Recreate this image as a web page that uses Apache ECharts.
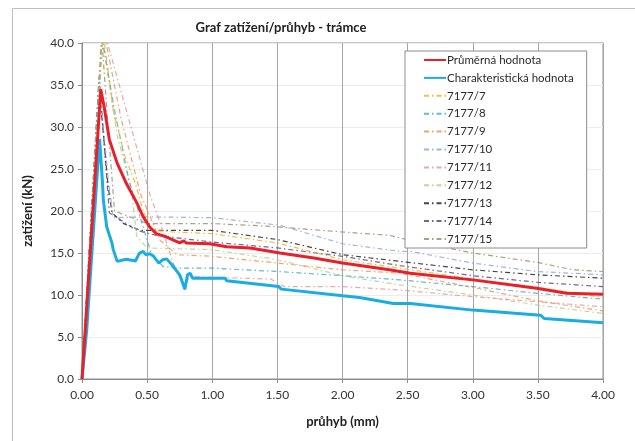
<!DOCTYPE html>
<html><head><meta charset="utf-8">
<script src="https://cdn.jsdelivr.net/npm/echarts@6/dist/echarts.min.js"></script>
<style>html,body{margin:0;padding:0;background:#fff}#c{width:635px;height:441px}</style>
</head><body><div id="c"></div>
<script>
const xTicks = [0, 0.5, 1, 1.5, 2, 2.5, 3, 3.5, 4];
const yTicks = [0, 5, 10, 15, 20, 25, 30, 35, 40];
const names = ['Průměrná hodnota','Charakteristická hodnota','7177/7','7177/8','7177/9','7177/10','7177/11','7177/12','7177/13','7177/14','7177/15'];
const avg = [[0,0],[0.144,34.5],[0.17,32.4],[0.21,28.5],[0.27,25.7],[0.34,23.3],[0.42,21.0],[0.47,19.3],[0.52,18.1],[0.57,17.3],[0.65,16.9],[0.75,16.2],[0.78,16.45],[0.80,16.2],[0.98,16.1],[1.11,15.75],[1.29,15.6],[1.52,15.0],[1.78,14.4],[2.0,13.8],[2.36,13.0],[2.52,12.6],[3.0,11.8],[3.49,10.8],[3.72,10.2],[4.0,10.1]];
const charact = [[0,0],[0.036,5.8],[0.135,28.6],[0.156,23.7],[0.164,21.3],[0.19,18.1],[0.23,16.2],[0.24,15.4],[0.27,14.0],[0.34,14.25],[0.41,14.05],[0.44,14.95],[0.47,15.2],[0.49,14.8],[0.52,14.9],[0.55,14.6],[0.59,13.8],[0.62,14.2],[0.65,14.3],[0.69,13.6],[0.75,12.4],[0.79,10.7],[0.81,12.4],[0.83,12.6],[0.85,12.0],[1.10,12.0],[1.11,11.7],[1.51,11.0],[1.53,10.7],[2.0,9.9],[2.13,9.7],[2.39,9.0],[2.52,9.0],[3.0,8.2],[3.52,7.6],[3.55,7.2],[4.0,6.7]];
const s7 = [[0,0],[0.16,41.5],[0.24,32],[0.33,26.5],[0.41,23.3],[0.47,20],[0.53,17.7],[0.7,17.5],[1.0,17.3],[1.5,16.2],[2.0,14.2],[2.44,13.2],[3.0,11.9],[3.5,10.9],[4.0,9.7]];
const s8 = [[0,0],[0.155,40.5],[0.25,32],[0.36,23.7],[0.53,15.0],[0.62,13.4],[0.75,13.2],[1.0,13.2],[1.5,12.8],[2.0,12.3],[2.44,11.8],[3.0,11.0],[3.5,10.2],[4.0,9.5]];
const s9 = [[0,0],[0.16,42],[0.3,31],[0.45,22],[0.6,16.5],[0.73,14.8],[1.0,14.6],[1.5,13.8],[2.0,13.0],[2.44,12.6],[3.0,10.9],[3.5,9.3],[4.0,8.1]];
const s10 = [[0,0],[0.13,36],[0.2,24],[0.24,19.2],[0.5,19.3],[1.0,19.2],[1.52,18.3],[2.0,16.1],[2.44,15.2],[2.52,15.2],[3.0,13.8],[3.49,12.8],[4.0,12.4]];
const s11 = [[0,0],[0.16,42],[0.52,22],[0.6,18.6],[0.7,13.8],[0.79,10.6],[0.82,12.2],[1.45,11.9],[1.55,11.0],[2.0,11.0],[2.44,10.6],[3.0,9.8],[3.5,9.2],[4.0,8.6]];
const s12 = [[0,0],[0.155,40.5],[0.27,29],[0.38,22.5],[0.42,17],[0.5,15.6],[1.0,15.4],[1.5,14.2],[2.0,12.3],[2.44,11.2],[3.0,10.0],[3.5,8.8],[4.0,7.8]];
const s13 = [[0,0],[0.13,35],[0.2,23],[0.23,19.8],[0.32,18.5],[0.45,17.7],[1.0,17.7],[1.5,16.6],[2.0,14.8],[2.44,14.0],[3.0,13.0],[3.5,12.4],[4.0,12.0]];
const s14 = [[0,0],[0.132,36],[0.16,30],[0.21,19.8],[0.42,17.7],[0.57,17.1],[1.0,16.3],[1.5,15.6],[2.0,14.6],[2.44,13.5],[3.0,12.3],[3.5,11.5],[4.0,11.0]];
const s15 = [[0,0],[0.15,41],[0.2,30],[0.25,20],[0.5,18.5],[1.0,18.5],[1.42,18.2],[2.0,17.5],[2.36,17.1],[2.52,16.5],[3.0,15.0],[3.49,13.9],[3.77,13.0],[4.0,12.8]];
const seriesData = [avg, charact, s7, s8, s9, s10, s11, s12, s13, s14, s15];
const colors = ['#E8202A','#1AADE4','#F2B21E','#4BACC6','#F0935A','#8EA9D6','#E39A9A','#B9D08C','#262626','#5F4A7E','#9C9068'];

const font = 'Lato, "Open Sans", sans-serif';
const series = seriesData.map((d, i) => ({
  name: names[i], type: 'line', data: d, showSymbol: false, symbol: 'none',
  lineStyle: i < 2 ? {color: colors[i], width: 3} : {color: colors[i], width: 1.2, type: [5, 3, 1.5, 3], opacity: 0.85},
  itemStyle: {color: colors[i]},
  z: i < 2 ? 5 : 3, silent: true, animation: false
}));
series.reverse();

const chart = echarts.init(document.getElementById('c'), null, {renderer: 'canvas'});
chart.setOption({
  animation: false,
  backgroundColor: '#fff',
  title: {text: 'Graf zatížení/průhyb - trámce', left: 276, top: 16, textAlign: 'center',
    textStyle: {fontFamily: font, fontSize: 13, fontWeight: 'bold', color: '#222'}},
  graphic: [{type: 'rect', shape: {x: 12.5, y: 8.5, width: 700, height: 600}, style: {fill: 'none', stroke: '#bfbfbf', lineWidth: 1}, z: -10}],
  grid: {left: 82, right: 32, top: 43, bottom: 62, show: true, borderColor: '#8c8c8c', borderWidth: 1, backgroundColor: 'transparent'},
  legend: {
    data: names.map(n => ({name: n, itemStyle: {opacity: 0}})), orient: 'vertical', left: 405, top: 51,
    backgroundColor: '#fff', borderColor: '#8c8c8c', borderWidth: 1,
    padding: [3, 13, 3, 18], itemWidth: 22, itemHeight: 10, itemGap: 5.9,
    itemStyle: {opacity: 0},
    textStyle: {fontFamily: font, fontSize: 11.5, color: '#2a2a2a', padding: [0,0,0,-4]},
    z: 10
  },
  xAxis: {type: 'value', min: 0, max: 4, interval: 0.5,
    name: 'průhyb (mm)', nameLocation: 'middle', nameGap: 36,
    nameTextStyle: {fontFamily: font, fontSize: 13, fontWeight: 'bold', color: '#222'},
    axisLine: {lineStyle: {color: '#8c8c8c'}}, axisTick: {show: true, length: 4, lineStyle: {color: '#8c8c8c'}},
    axisLabel: {fontFamily: font, fontSize: 12, color: '#333', margin: 10, formatter: v => v.toFixed(2)},
    splitLine: {show: true, lineStyle: {color: '#a6a6a6', width: 1}}},
  yAxis: {type: 'value', min: 0, max: 40, interval: 5,
    name: 'zatížení (kN)', nameLocation: 'middle', nameGap: 48,
    nameTextStyle: {fontFamily: font, fontSize: 13, fontWeight: 'bold', color: '#222'},
    axisLine: {show: true, lineStyle: {color: '#8c8c8c'}}, axisTick: {show: true, length: 4, lineStyle: {color: '#8c8c8c'}},
    axisLabel: {fontFamily: font, fontSize: 12, color: '#333', margin: 8, formatter: v => v.toFixed(1)},
    splitLine: {show: true, lineStyle: {color: '#ececec', width: 1}}},
  series: series
});
</script></body></html>
